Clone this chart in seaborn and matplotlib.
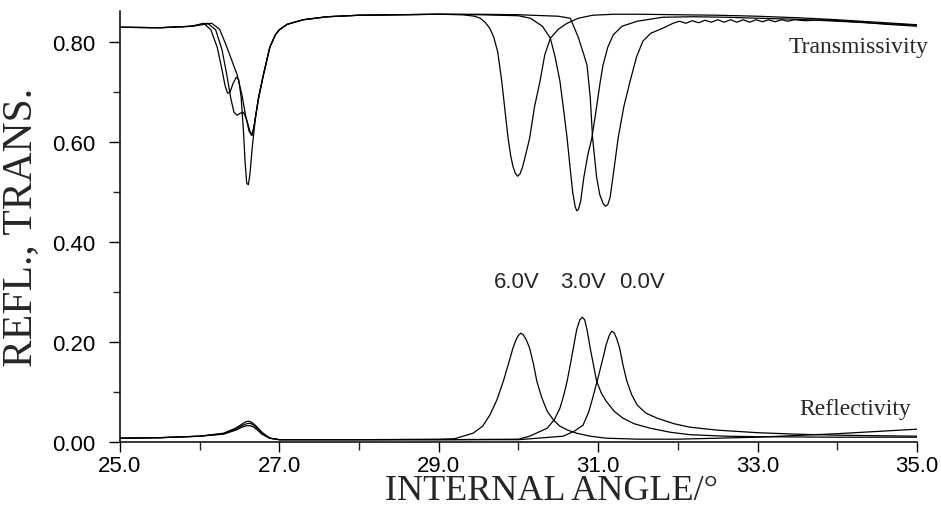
import matplotlib
matplotlib.use("Agg")
import matplotlib.pyplot as plt
import seaborn as sns
from matplotlib.ticker import MultipleLocator, FormatStrFormatter

# ---------------- data ----------------
# Transmissivity, 6.0 V
t6_x = [25.0, 25.5, 25.9, 26.05, 26.14, 26.22, 26.28, 26.32, 26.35, 26.38, 26.42, 26.46, 26.49,
        26.52, 26.55, 26.57, 26.59, 26.61, 26.63, 26.66, 26.70, 26.74, 26.80, 26.88, 26.95,
        27.0, 27.1, 27.3, 27.6, 28.0, 28.5, 29.0, 29.3, 29.45, 29.52, 29.58, 29.64, 29.69, 29.74,
        29.79, 29.84, 29.87, 29.90, 29.93, 29.96, 29.99, 30.02, 30.05, 30.09, 30.14, 30.20,
        30.27, 30.33, 30.40, 30.50, 30.61, 30.75, 30.93, 31.2, 31.5, 32.0, 32.5, 33.0, 33.5, 34.0,
        34.5, 35.0]
t6_y = [0.830, 0.829, 0.832, 0.838, 0.825, 0.790, 0.745, 0.712, 0.698, 0.700, 0.718, 0.730, 0.725,
        0.690, 0.620, 0.560, 0.518, 0.515, 0.535, 0.590, 0.650, 0.690, 0.735, 0.790, 0.815,
        0.825, 0.836, 0.845, 0.851, 0.854, 0.855, 0.856, 0.855, 0.852, 0.848, 0.840, 0.828, 0.810,
        0.780, 0.722, 0.650, 0.608, 0.575, 0.552, 0.538, 0.532, 0.537, 0.550, 0.575, 0.608, 0.670,
        0.722, 0.775, 0.808, 0.826, 0.838, 0.848, 0.854, 0.856, 0.856, 0.855, 0.854, 0.852,
        0.849, 0.845, 0.840, 0.835]

# Transmissivity, 3.0 V
t3_x = [25.0, 25.5, 25.9, 26.1, 26.2, 26.28, 26.34, 26.39, 26.43, 26.47, 26.51, 26.55, 26.59,
        26.63, 26.66, 26.70, 26.74, 26.80, 26.88, 26.95, 27.0, 27.1, 27.3, 27.6, 28.0, 28.5, 29.0,
        29.5, 30.0, 30.15, 30.30, 30.40, 30.46, 30.52, 30.57, 30.61, 30.65, 30.68, 30.71, 30.73,
        30.75, 30.78, 30.82, 30.87, 30.92, 30.97, 31.02, 31.06, 31.12, 31.19, 31.30, 31.49, 31.81,
        32.2, 32.6, 33.0, 33.5, 34.0, 34.5, 35.0]
t3_y = [0.830, 0.829, 0.832, 0.838, 0.825, 0.785, 0.735, 0.688, 0.660, 0.654, 0.658, 0.660, 0.645,
        0.622, 0.614, 0.650, 0.690, 0.735, 0.790, 0.815, 0.825, 0.836, 0.845, 0.851, 0.854, 0.855,
        0.856, 0.855, 0.853, 0.848, 0.832, 0.808, 0.770, 0.722, 0.660, 0.608, 0.545, 0.500, 0.472,
        0.463, 0.465, 0.482, 0.530, 0.575, 0.608, 0.660, 0.715, 0.754, 0.790, 0.815, 0.832, 0.842,
        0.850, 0.851, 0.850, 0.848, 0.846, 0.842, 0.838, 0.834]

# Transmissivity, 0.0 V
t0_x = [25.0, 25.5, 25.9, 26.15, 26.25, 26.33, 26.40, 26.47, 26.53, 26.58, 26.62, 26.65, 26.68,
        26.71, 26.74, 26.80, 26.88, 26.95, 27.0, 27.1, 27.3, 27.6, 28.0, 28.5, 29.0, 29.5, 30.0,
        30.5, 30.65, 30.75, 30.82, 30.86, 30.90, 30.93, 30.98, 31.02, 31.06, 31.09, 31.12, 31.15,
        31.18, 31.21, 31.25, 31.32, 31.40, 31.48, 31.56, 31.66, 31.81, 31.94, 32.02, 32.10, 32.18,
        32.26, 32.34, 32.42, 32.50, 32.58, 32.66, 32.74, 32.82, 32.90, 32.98, 33.06, 33.14, 33.22,
        33.30, 33.38, 33.46, 33.6, 33.8, 34.0, 34.3, 34.6, 35.0]
t0_y = [0.830, 0.829, 0.832, 0.838, 0.826, 0.795, 0.765, 0.735, 0.695, 0.650, 0.622, 0.614, 0.628,
        0.660, 0.690, 0.735, 0.790, 0.815, 0.825, 0.836, 0.845, 0.851, 0.854, 0.855, 0.856, 0.856,
        0.855, 0.852, 0.848, 0.810, 0.775, 0.754, 0.690, 0.608, 0.530, 0.495, 0.478, 0.472, 0.475,
        0.490, 0.525, 0.560, 0.608, 0.670, 0.722, 0.770, 0.802, 0.818, 0.828, 0.838, 0.842, 0.838,
        0.843, 0.839, 0.844, 0.840, 0.845, 0.840, 0.845, 0.840, 0.845, 0.840, 0.845, 0.841, 0.845,
        0.841, 0.845, 0.842, 0.845, 0.843, 0.845, 0.843, 0.840, 0.836, 0.832]

# Reflectivity, 6.0 V
r6_x = [25.0, 25.5, 26.0, 26.3, 26.45, 26.53, 26.58, 26.62, 26.66, 26.71, 26.78, 26.88, 27.0,
        28.0, 29.0, 29.2, 29.43, 29.55, 29.64, 29.73, 29.81, 29.88, 29.93, 29.97, 30.00, 30.03,
        30.06, 30.10, 30.14, 30.19, 30.23, 30.29, 30.36, 30.44, 30.52, 30.62, 30.73, 30.90, 31.10,
        31.5, 32.0, 33.0, 34.0, 35.0]
r6_y = [0.008, 0.009, 0.012, 0.018, 0.028, 0.036, 0.041, 0.042, 0.039, 0.032, 0.020, 0.008, 0.005,
        0.005, 0.006, 0.007, 0.018, 0.032, 0.054, 0.085, 0.122, 0.160, 0.188, 0.205, 0.214, 0.218,
        0.215, 0.204, 0.188, 0.155, 0.122, 0.090, 0.062, 0.044, 0.032, 0.024, 0.018, 0.012, 0.008,
        0.006, 0.006, 0.010, 0.017, 0.026]

# Reflectivity, 3.0 V
r3_x = [25.0, 25.5, 26.0, 26.3, 26.45, 26.53, 26.59, 26.63, 26.67, 26.72, 26.78, 26.88, 27.0,
        28.0, 29.0, 30.0, 30.14, 30.36, 30.45, 30.52, 30.57, 30.61, 30.65, 30.69, 30.73, 30.77,
        30.80, 30.83, 30.86, 30.90, 30.94, 30.98, 31.04, 31.10, 31.20, 31.31, 31.45, 31.65, 31.90,
        32.15, 32.6, 33.0, 34.0, 35.0]
r3_y = [0.008, 0.009, 0.012, 0.017, 0.026, 0.033, 0.037, 0.038, 0.035, 0.028, 0.018, 0.008, 0.005,
        0.005, 0.005, 0.006, 0.012, 0.028, 0.045, 0.068, 0.095, 0.122, 0.155, 0.190, 0.225, 0.245,
        0.250, 0.245, 0.225, 0.188, 0.155, 0.122, 0.098, 0.082, 0.062, 0.048, 0.037, 0.028, 0.020,
        0.015, 0.012, 0.011, 0.010, 0.010]

# Reflectivity, 0.0 V
r0_x = [25.0, 25.5, 26.0, 26.3, 26.45, 26.53, 26.59, 26.63, 26.67, 26.72, 26.78, 26.88, 27.0,
        28.0, 29.0, 30.0, 30.56, 30.70, 30.81, 30.88, 30.93, 31.00, 31.06, 31.10, 31.14, 31.17,
        31.20, 31.23, 31.27, 31.31, 31.36, 31.42, 31.49, 31.60, 31.74, 31.95, 32.15, 32.5, 33.0,
        33.5, 34.0, 35.0]
r0_y = [0.008, 0.009, 0.012, 0.016, 0.024, 0.030, 0.033, 0.033, 0.031, 0.025, 0.016, 0.008, 0.005,
        0.005, 0.005, 0.005, 0.012, 0.022, 0.034, 0.060, 0.088, 0.130, 0.168, 0.195, 0.214, 0.222,
        0.219, 0.208, 0.188, 0.155, 0.122, 0.095, 0.074, 0.058, 0.048, 0.037, 0.030, 0.024, 0.019,
        0.016, 0.014, 0.012]

curves = [(t6_x, t6_y), (t3_x, t3_y), (t0_x, t0_y), (r6_x, r6_y), (r3_x, r3_y), (r0_x, r0_y)]

x_ticks = [25.0, 27.0, 29.0, 31.0, 33.0, 35.0]
y_ticks = [0.00, 0.20, 0.40, 0.60, 0.80]
voltage_labels = ["6.0V", "3.0V", "0.0V"]
voltage_label_x = [29.98, 30.81, 31.55]

# ---------------- drawing ----------------
sns.set_style("ticks")
plt.rcParams["font.family"] = ["Liberation Sans", "DejaVu Sans"]

fig = plt.figure(figsize=(9.41, 5.10), dpi=100)
ax = fig.add_axes([0.1275, 0.131, 0.847, 0.845])

for cx, cy in curves:
    sns.lineplot(x=cx, y=cy, ax=ax, color="black", linewidth=0.9,
                 estimator=None, sort=False, legend=False)

ax.set_xlim(25.0, 35.0)
ax.set_ylim(0.0, 0.862)
sns.despine(ax=ax)
for s in ("left", "bottom"):
    ax.spines[s].set_linewidth(1.1)
    ax.spines[s].set_color("black")

ax.set_xticks(x_ticks)
ax.xaxis.set_minor_locator(MultipleLocator(1.0))
ax.set_yticks(y_ticks)
ax.yaxis.set_minor_locator(MultipleLocator(0.1))
ax.xaxis.set_major_formatter(FormatStrFormatter("%.1f"))
ax.yaxis.set_major_formatter(FormatStrFormatter("%.2f"))
ax.tick_params(axis="x", which="major", direction="out", length=7, width=1, pad=2,
               labelsize=16, colors="black")
ax.tick_params(axis="x", which="minor", direction="out", length=6, width=1)
ax.tick_params(axis="y", which="major", direction="out", length=8, width=1, pad=10,
               labelsize=16, colors="black")
ax.tick_params(axis="y", which="minor", direction="out", length=5, width=1)

ax.set_xlabel("INTERNAL ANGLE/°", fontsize=26, family=["Liberation Serif", "DejaVu Serif"])
ax.set_ylabel("REFL., TRANS.", fontsize=30, family=["Liberation Serif", "DejaVu Serif"])
ax.xaxis.set_label_coords(0.541, -0.074)
ax.yaxis.set_label_coords(-0.10, 0.5)

ax.text(34.27, 0.792, "Transmissivity", fontsize=17, ha="center", va="center",
        family=["Liberation Serif", "DejaVu Serif"], clip_on=False)
ax.text(34.23, 0.068, "Reflectivity", fontsize=17, ha="center", va="center",
        family=["Liberation Serif", "DejaVu Serif"], clip_on=False)
for lab, lx in zip(voltage_labels, voltage_label_x):
    ax.text(lx, 0.322, lab, fontsize=16, ha="center", va="center")

fig.savefig("out.png", dpi=100)
